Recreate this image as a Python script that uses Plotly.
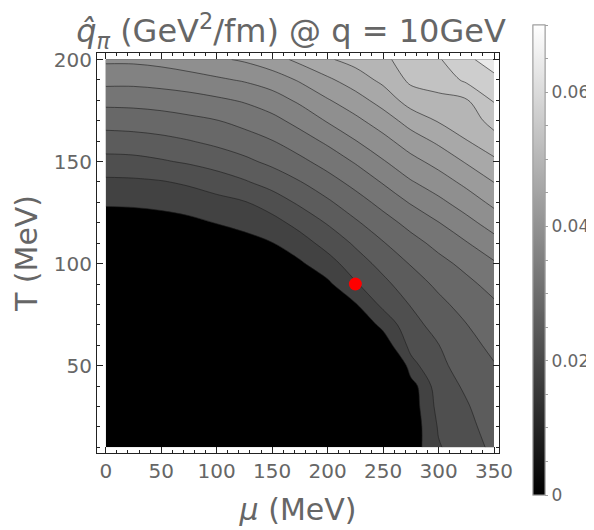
import plotly.graph_objects as go

# ---- data ----
mu_MeV = [0, 25, 50, 75, 100, 125, 150, 175, 200, 225, 250, 275, 300, 325, 350]
T_MeV = [10, 20, 30, 40, 50, 60, 70, 80, 90, 100,
         110, 120, 130, 140, 150, 160, 170, 180, 190, 200]

# q-hat_pi (GeV^2/fm), one row per temperature (T = 10 ... 200), columns follow mu_MeV
qhat_T010 = [0, 0, 0, 0, 0, 0, 0, 0, 0, 0, 0, 0.01535, 0.02072, 0.02300, 0.02520]
qhat_T020 = [0, 0, 0, 0, 0, 0, 0, 0, 0, 0, 0, 0.01496, 0.02132, 0.02359, 0.02585]
qhat_T030 = [0, 0, 0, 0, 0, 0, 0, 0, 0, 0, 0, 0.01533, 0.02211, 0.02419, 0.02650]
qhat_T040 = [0, 0, 0, 0, 0, 0, 0, 0, 0, 0, 0, 0.01575, 0.02291, 0.02499, 0.02715]
qhat_T050 = [0, 0, 0, 0, 0, 0, 0, 0, 0, 0, 0.00525, 0.01983, 0.02370, 0.02596, 0.02780]
qhat_T060 = [0, 0, 0, 0, 0, 0, 0, 0, 0, 0, 0.01517, 0.02204, 0.02442, 0.02693, 0.02879]
qhat_T070 = [0, 0, 0, 0, 0, 0, 0, 0, 0, 0.01429, 0.01850, 0.02333, 0.02576, 0.02790, 0.02992]
qhat_T080 = [0, 0, 0, 0, 0, 0, 0, 0, 0, 0.01721, 0.02188, 0.02468, 0.02716, 0.02926, 0.03105]
qhat_T090 = [0, 0, 0, 0, 0, 0, 0, 0, 0.01680, 0.02065, 0.02363, 0.02643, 0.02870, 0.03066, 0.03267]
qhat_T100 = [0, 0, 0, 0, 0, 0, 0, 0.01700, 0.01960, 0.02285, 0.02559, 0.02821, 0.03045, 0.03243, 0.03461]
qhat_T110 = [0, 0, 0, 0, 0.01528, 0.01622, 0.01738, 0.01950, 0.02225, 0.02500, 0.02778, 0.03026, 0.03250, 0.03477, 0.03722]
qhat_T120 = [0.01565, 0.01575, 0.01610, 0.01668, 0.01761, 0.01852, 0.01979, 0.02217, 0.02477, 0.02750, 0.03010, 0.03258, 0.03488, 0.03742, 0.04002]
qhat_T130 = [0.01796, 0.01808, 0.01843, 0.01902, 0.01987, 0.02077, 0.02267, 0.02508, 0.02746, 0.03000, 0.03258, 0.03529, 0.03766, 0.04012, 0.04282]
qhat_T140 = [0.02030, 0.02042, 0.02077, 0.02153, 0.02275, 0.02415, 0.02587, 0.02786, 0.03015, 0.03258, 0.03529, 0.03821, 0.04038, 0.04288, 0.04556]
qhat_T150 = [0.02335, 0.02350, 0.02415, 0.02494, 0.02596, 0.02724, 0.02881, 0.03066, 0.03285, 0.03532, 0.03821, 0.04092, 0.04317, 0.04582, 0.04834]
qhat_T160 = [0.02643, 0.02663, 0.02713, 0.02785, 0.02881, 0.02995, 0.03137, 0.03338, 0.03564, 0.03835, 0.04092, 0.04375, 0.04614, 0.04885, 0.05111]
qhat_T170 = [0.02937, 0.02958, 0.02996, 0.03066, 0.03137, 0.03258, 0.03396, 0.03617, 0.03879, 0.04116, 0.04375, 0.04690, 0.04925, 0.05055, 0.05375]
qhat_T180 = [0.03259, 0.03268, 0.03308, 0.03363, 0.03439, 0.03535, 0.03691, 0.03914, 0.04171, 0.04404, 0.04690, 0.05055, 0.05175, 0.05217, 0.05625]
qhat_T190 = [0.03612, 0.03607, 0.03644, 0.03703, 0.03795, 0.03885, 0.04017, 0.04239, 0.04486, 0.04725, 0.04982, 0.05320, 0.05379, 0.05666, 0.05875]
qhat_T200 = [0.03913, 0.03917, 0.03966, 0.04060, 0.04148, 0.04244, 0.04410, 0.04638, 0.04861, 0.05017, 0.05187, 0.05390, 0.05563, 0.05884, 0.06094]

qhat = [qhat_T010, qhat_T020, qhat_T030, qhat_T040, qhat_T050, qhat_T060, qhat_T070,
        qhat_T080, qhat_T090, qhat_T100, qhat_T110, qhat_T120, qhat_T130, qhat_T140,
        qhat_T150, qhat_T160, qhat_T170, qhat_T180, qhat_T190, qhat_T200]

# marked point
point_mu = [225]
point_T = [90]

# contour levels and colour bar range
level_start, level_end, level_step = 0.0175, 0.0595, 0.0035
cbar_min, cbar_max = 0.0, 0.07
cbar_major_step, cbar_minor_step = 0.02, 0.005

# ---- styling ----
n_levels = int(round((level_end - level_start) / level_step)) + 1
band_scale = []
for k in range(n_levels + 1):
    if k == 0:
        g = 0
    elif k == n_levels:
        g = 233
    else:
        g = int(round(255 * (level_start + (k - 0.5) * level_step) / cbar_max)) - 4
    band_scale.append([k / n_levels, f"rgb({g},{g},{g})"])

TXT = "#666666"
FONT = "DejaVu Sans"

# the page body adds an 8 px offset, so the figure is laid out 8 px smaller
OFF = 8
W, H = 594 - OFF, 530 - OFF
L, R, TOP, BOT = 97 - OFF, 499 - OFF, 53 - OFF, 453 - OFF
plot_w, plot_h = R - L, BOT - TOP

grey_scale = [[0, "rgb(0,0,0)"], [1, "rgb(255,255,255)"]]
cb_common = dict(
    x=(533 - OFF - L) / plot_w, xanchor="left", xref="paper",
    y=(BOT - (260 - OFF)) / plot_h, yanchor="middle", yref="paper",
    len=470, lenmode="pixels", thickness=12,
    outlinewidth=1, outlinecolor="#a0a0a0",
    ticks="outside", ticklen=3, tickcolor="#a0a0a0", tickwidth=1,
    tickfont=dict(family=FONT, size=17, color=TXT),
    xpad=0, ypad=0,
)

fig = go.Figure()

# invisible heatmaps only provide the continuous grey colour bar (minor ticks + labelled major ticks)
fig.add_trace(go.Heatmap(
    x=mu_MeV, y=T_MeV, z=qhat, zmin=cbar_min, zmax=cbar_max,
    colorscale=grey_scale, opacity=0, hoverinfo="skip", showscale=True,
    colorbar=dict(tickmode="linear", tick0=0, dtick=cbar_minor_step,
                  showticklabels=False, **cb_common),
))
fig.add_trace(go.Heatmap(
    x=mu_MeV, y=T_MeV, z=qhat, zmin=cbar_min, zmax=cbar_max,
    colorscale=grey_scale, opacity=0, hoverinfo="skip", showscale=True,
    colorbar=dict(tickmode="linear", tick0=0, dtick=cbar_major_step,
                  tickformat="~g", **cb_common),
))

fig.add_trace(go.Contour(
    x=mu_MeV, y=T_MeV, z=qhat,
    autocontour=False,
    contours=dict(start=level_start, end=level_end, size=level_step, coloring="fill"),
    colorscale=band_scale, showscale=False,
    line=dict(color="rgba(30,30,30,0.6)", width=1, smoothing=1.0),
    hoverinfo="skip",
))

fig.add_trace(go.Scatter(
    x=point_mu, y=point_T, mode="markers",
    marker=dict(color="#ff0000", size=13, line=dict(width=0)),
    showlegend=False, hoverinfo="skip",
))

axis_common = dict(
    showline=True, linecolor="#222222", linewidth=1, mirror="ticks",
    ticks="inside", ticklen=6, tickwidth=1, tickcolor="#222222",
    showgrid=False, zeroline=False, automargin=False,
    tickfont=dict(family=FONT, size=20, color=TXT),
    minor=dict(ticks="inside", ticklen=3, dtick=10, tickcolor="#222222", tickwidth=1, showgrid=False),
)

fig.update_xaxes(
    range=[-7.9, 354.5], tickmode="linear", tick0=0, dtick=50,
    title=dict(text="<i>μ</i> (MeV)", font=dict(family=FONT, size=30, color=TXT), standoff=16),
    **axis_common,
)
fig.update_yaxes(
    range=[7.2, 203.2], tickmode="linear", tick0=0, dtick=50,
    title=dict(text="T (MeV)", font=dict(family=FONT, size=30, color=TXT), standoff=7),
    **axis_common,
)

fig.update_layout(
    width=W, height=H,
    margin=dict(l=L, r=W - R, t=TOP, b=H - BOT, autoexpand=False),
    paper_bgcolor="white", plot_bgcolor="white",
    font=dict(family=FONT, color=TXT),
    showlegend=False,
    title=dict(
        text="<i>q̂</i><sub><i>π</i></sub> (GeV<sup>2</sup>/fm) @ q = 10GeV",
        x=0.5 - 7 / plot_w, xref="paper", xanchor="center",
        y=1 - (31 - OFF) / H, yref="container", yanchor="middle",
        font=dict(family=FONT, size=32, color=TXT),
    ),
)

fig.write_html("out.html")
